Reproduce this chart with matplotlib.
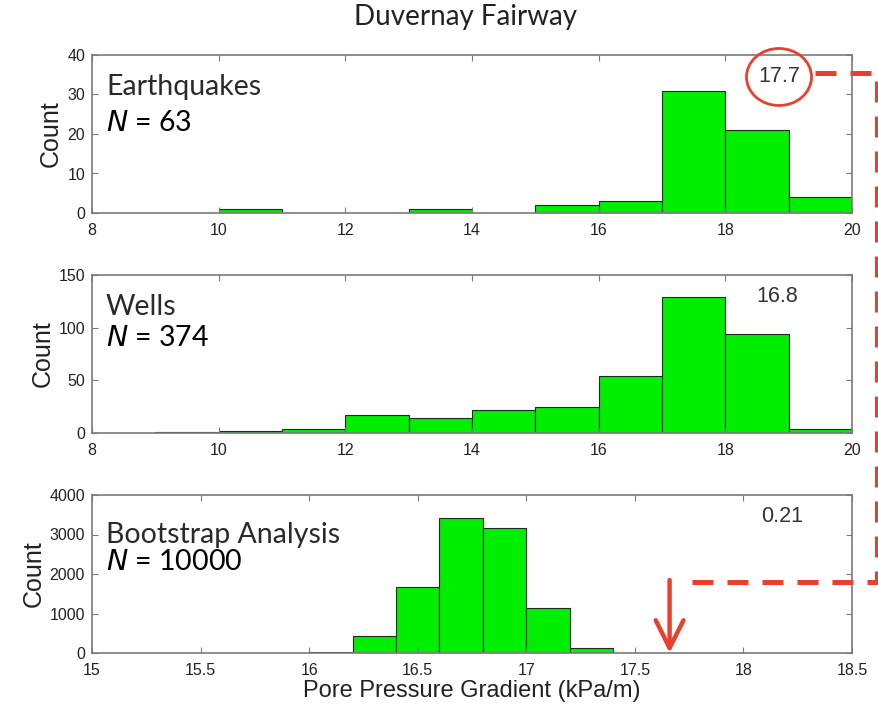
import matplotlib
matplotlib.use("Agg")
import matplotlib.pyplot as plt
from matplotlib.lines import Line2D
from matplotlib.patches import Ellipse

# Histogram counts (1 kPa/m bins for the first two panels, 0.2 for bootstrap)
eq_edges = [8, 9, 10, 11, 12, 13, 14, 15, 16, 17, 18, 19]
eq_counts = [0, 0, 1, 0, 0, 1, 0, 2, 3, 31, 21, 4]

well_edges = [8, 9, 10, 11, 12, 13, 14, 15, 16, 17, 18, 19]
well_counts = [0, 1, 2, 4, 17, 14, 22, 25, 54, 129, 94, 4]

boot_edges = [16.0, 16.2, 16.4, 16.6, 16.8, 17.0, 17.2]
boot_counts = [25, 440, 1680, 3430, 3160, 1130, 135]

panel_names = ["Earthquakes", "Wells", "Bootstrap Analysis"]
panel_n = [63, 374, 10000]
corner_vals = ["17.7", "16.8", "0.21"]
bootstrap_mean = 17.66

W, H = 879, 704
RED = "#E8402F"
GREEN = "#00EE00"
SANS = "Liberation Sans"
CAL = "Lato"


def fx(x):
    return x / W


def fy(y):
    return 1 - y / H


fig = plt.figure(figsize=(W / 100, H / 100), dpi=100)

boxes = [(55, 213), (275, 433), (495, 653)]
axes = []
for top, bot in boxes:
    ax = fig.add_axes([fx(92), fy(bot), fx(852) - fx(92), (bot - top) / H])
    axes.append(ax)

datasets = [(eq_edges, eq_counts, 1.0), (well_edges, well_counts, 1.0),
            (boot_edges, boot_counts, 0.2)]
for ax, (edges, counts, w) in zip(axes, datasets):
    lefts = [e for e, c in zip(edges, counts) if c > 0]
    vals = [c for c in counts if c > 0]
    ax.bar(lefts, vals, width=w, align="edge", color=GREEN,
           edgecolor="#1f2a1f", linewidth=0.8)

axes[0].set_xlim(8, 20)
axes[0].set_ylim(0, 40)
axes[0].set_xticks(range(8, 21, 2))
axes[0].set_yticks(range(0, 41, 10))
axes[1].set_xlim(8, 20)
axes[1].set_ylim(0, 150)
axes[1].set_xticks(range(8, 21, 2))
axes[1].set_yticks([0, 50, 100, 150])
axes[2].set_xlim(15, 18.5)
axes[2].set_ylim(0, 4000)
axes[2].set_xticks([15, 15.5, 16, 16.5, 17, 17.5, 18, 18.5])
axes[2].set_xticklabels(["15", "15.5", "16", "16.5", "17", "17.5", "18", "18.5"])
axes[2].set_yticks(range(0, 4001, 1000))

for ax in axes:
    for s in ax.spines.values():
        s.set_color("#7a7a7a")
        s.set_linewidth(1.2)
    ax.tick_params(direction="in", length=4, width=0.8, color="#7a7a7a",
                   top=True, right=True, labelsize=11.5, pad=5,
                   labelcolor="#222222")
    ax.tick_params(axis="x", pad=7)
    for lab in ax.get_xticklabels() + ax.get_yticklabels():
        lab.set_family(SANS)
    ax.set_ylabel("Count", fontsize=18, family=SANS, color="#222222", labelpad=3)

# panel labels
label_pos = [(87, 123), (307, 338), (535, 562)]
for (y1, y2), name, n in zip(label_pos, panel_names, panel_n):
    fig.text(fx(106), fy(y1), name, family=CAL, fontsize=20.5, va="center",
             ha="left", color="#2a2a2a")
    fig.text(fx(106), fy(y2), r"$\mathit{N}$ = %d" % n, family=CAL,
             fontsize=20.5, va="center", ha="left", color="black")

corner_pos = [(779, 77), (777, 297), (782, 517)]
for (x, y), txt in zip(corner_pos, corner_vals):
    fig.text(fx(x), fy(y), txt, family=SANS, fontsize=15.5, ha="center",
             va="center", color="#333333")

fig.text(fx(466), fy(17), "Duvernay Fairway", family=CAL, fontsize=20,
         ha="center", va="center", color="#222222")
fig.text(fx(472), fy(691), "Pore Pressure Gradient (kPa/m)", family=SANS,
         fontsize=17, ha="center", va="center", color="#222222")

# red highlight: circle, dashed connector, arrow onto the bootstrap axis
fig.add_artist(Ellipse((fx(779), fy(77)), 65 / W, 57 / H, fill=False,
                       edgecolor=RED, linewidth=2))
fig.add_artist(Line2D([fx(815), fx(877), fx(877), fx(685)],
                      [fy(73), fy(73), fy(582), fy(582)],
                      color=RED, linewidth=3.6, dashes=(4.2, 2.8),
                      solid_capstyle="butt", dash_capstyle="butt"))
axes[2].annotate("", xy=(bootstrap_mean, 0), xycoords="data",
                 xytext=(bootstrap_mean, (653 - 580) / 158),
                 textcoords=("data", "axes fraction"),
                 arrowprops=dict(arrowstyle="->,head_length=2.0,head_width=1.0",
                                 color=RED, linewidth=3.2, shrinkA=0, shrinkB=0),
                 annotation_clip=False)

fig.savefig("out.png", dpi=100)
